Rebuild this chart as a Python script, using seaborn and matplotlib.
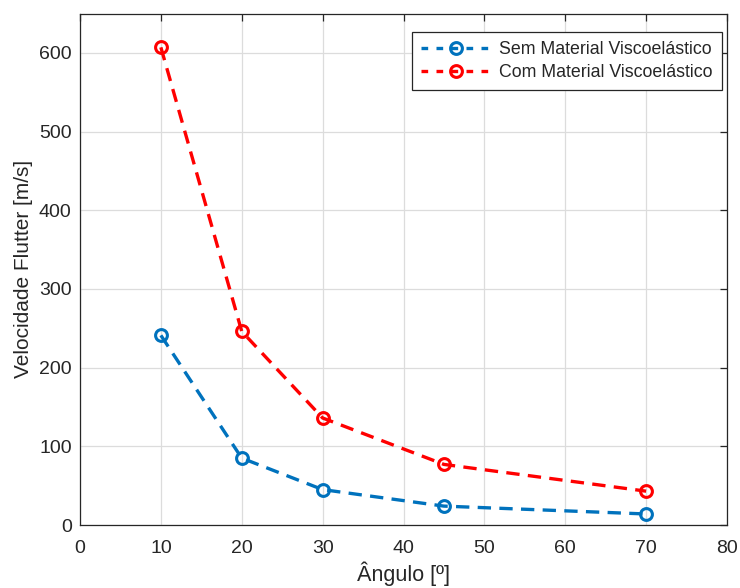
import matplotlib
matplotlib.use("Agg")
import matplotlib.pyplot as plt
import seaborn as sns
import pandas as pd

# Flutter speed versus sweep angle, with and without viscoelastic material
angulo = [10, 20, 30, 45, 70]
sem_material = [241, 85, 45, 24, 14]
com_material = [607, 246, 136, 77, 43]
series_names = ["Sem Material Viscoelástico", "Com Material Viscoelástico"]
x_ticks = [0, 10, 20, 30, 40, 50, 60, 70, 80]
y_ticks = [0, 100, 200, 300, 400, 500, 600]

df = pd.concat([
    pd.DataFrame({"Angulo": angulo, "Velocidade": sem_material, "Serie": series_names[0]}),
    pd.DataFrame({"Angulo": angulo, "Velocidade": com_material, "Serie": series_names[1]}),
])

sns.set_style("white")
plt.rcParams["font.family"] = ["Liberation Sans", "DejaVu Sans"]

fig = plt.figure(figsize=(7.40, 5.88), dpi=100)
ax = fig.add_axes([80 / 740, 1 - 525 / 588, (727 - 80) / 740, (525 - 13.5) / 588])

palette = {series_names[0]: "#0072BD", series_names[1]: "#FF0000"}
sns.lineplot(data=df, x="Angulo", y="Velocidade", hue="Serie", palette=palette,
             marker="o", markersize=8.5, markerfacecolor="none", markeredgewidth=2.2,
             linewidth=2.4, dashes=False, linestyle=(0, (4, 2.5)), ax=ax, zorder=3)
for line in ax.get_lines():
    line.set_markerfacecolor("none")
    line.set_markeredgecolor(line.get_color())

ax.set_xlim(0, 80)
ax.set_ylim(0, 650)
ax.set_xticks(x_ticks)
ax.set_yticks(y_ticks)
ax.grid(True, color="#dcdcdc", linewidth=0.9)
ax.set_axisbelow(True)
for s in ax.spines.values():
    s.set_visible(True)
    s.set_color("#262626")
    s.set_linewidth(0.9)
ax.tick_params(direction="in", length=5, width=0.9, colors="#262626",
               labelsize=14, top=True, right=True, pad=6)
ax.tick_params(axis="x", pad=11)
ax.set_xlabel("Ângulo [º]", fontsize=15.5, color="#262626", labelpad=3)
ax.set_ylabel("Velocidade Flutter [m/s]", fontsize=15, color="#262626", labelpad=4)

handles, labels = ax.get_legend_handles_labels()
leg = ax.legend(handles, labels, loc="upper right", bbox_to_anchor=(0.992, 0.964),
                borderaxespad=0, fontsize=12.8, frameon=True, fancybox=False,
                edgecolor="#262626", framealpha=1, handlelength=3.9, borderpad=0.5,
                labelspacing=0.35, handletextpad=0.5)
leg.get_frame().set_linewidth(0.9)
for h in leg.legend_handles:
    h.set_markerfacecolor("none")
    h.set_linestyle((0, (2, 2.5)))

fig.savefig("out.png", dpi=100)
